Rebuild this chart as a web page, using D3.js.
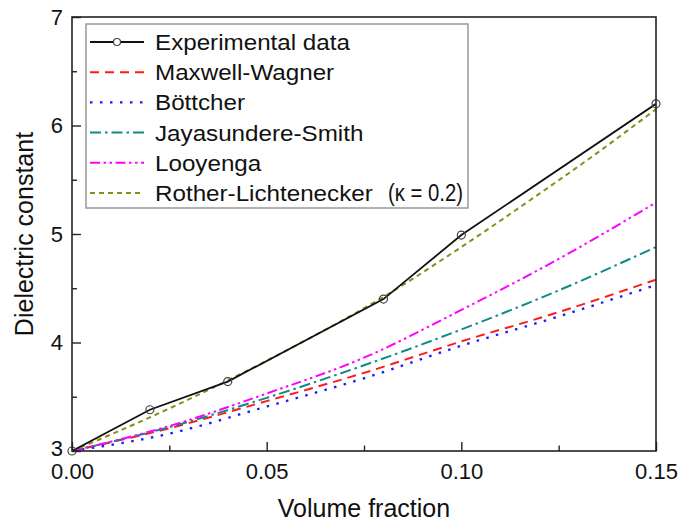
<!DOCTYPE html>
<html>
<head>
<meta charset="utf-8">
<script src="https://cdn.jsdelivr.net/npm/d3@7"></script>
<style>
  html, body { margin: 0; padding: 0; background: #fff; }
  svg { display: block; }
  text { font-family: "Liberation Sans", Arial, sans-serif; fill: #111; }
</style>
</head>
<body>
<svg id="chart" width="678" height="524"></svg>
<script>
// ---------- data ----------
const expX = [0, 0.02, 0.04, 0.08, 0.10, 0.15];
const expY = [3.0, 3.38, 3.64, 4.40, 4.99, 6.20];

const modelX = [0, 0.025, 0.05, 0.075, 0.10, 0.125, 0.15];
const maxwellWagner = [3.0, 3.21, 3.46, 3.72, 4.01, 4.28, 4.58];
const bottcher      = [3.0, 3.16, 3.41, 3.67, 3.97, 4.24, 4.53];
const jayasundere   = [3.0, 3.22, 3.49, 3.79, 4.12, 4.48, 4.88];
const looyenga      = [3.0, 3.23, 3.53, 3.86, 4.30, 4.77, 5.29];

const rlX = [0, 0.02, 0.04, 0.06, 0.08, 0.10, 0.12, 0.135, 0.15];
const rotherLichtenecker = [3.0, 3.31, 3.65, 4.02, 4.42, 4.88, 5.37, 5.75, 6.15];

const xMajorTicks = [0, 0.05, 0.10, 0.15];
const xMinorTicks = [0.025, 0.075, 0.125];
const yMajorTicks = [3, 4, 5, 6, 7];
const yMinorTicks = [3.5, 4.5, 5.5, 6.5];

const legendLabels = ["Experimental data", "Maxwell-Wagner", "Böttcher",
                      "Jayasundere-Smith", "Looyenga", "Rother-Lichtenecker"];

// ---------- setup ----------
const svg = d3.select("#chart");
const L = 72, R = 656, T = 17, B = 451;
const x = d3.scaleLinear().domain([0, 0.15]).range([L, R]);
const y = d3.scaleLinear().domain([3, 7]).range([B, T]);

const series = [
  { name: legendLabels[1], xs: modelX, ys: maxwellWagner, color: "#ff1a1a", dash: "9,6", w: 2 },
  { name: legendLabels[2], xs: modelX, ys: bottcher, color: "#1a1aff", dash: "2.5,7.5", w: 2.3 },
  { name: legendLabels[3], xs: modelX, ys: jayasundere, color: "#108a86", dash: "11,4,2.5,4", w: 2 },
  { name: legendLabels[4], xs: modelX, ys: looyenga, color: "#ff00ff", dash: "10,3.5,2.5,3.5,2.5,3.5", w: 2 },
  { name: legendLabels[5], xs: rlX, ys: rotherLichtenecker, color: "#8c8c1a", dash: "5,4", w: 2 }
];

const line = d3.line().x(d => x(d[0])).y(d => y(d[1])).curve(d3.curveMonotoneX);
const lineLin = d3.line().x(d => x(d[0])).y(d => y(d[1]));

const plot = svg.append("g");
plot.append("defs").append("clipPath").attr("id", "clip")
  .append("rect").attr("x", L).attr("y", T).attr("width", R - L).attr("height", B - T);

const lines = plot.append("g").attr("clip-path", "url(#clip)");
series.forEach(s => {
  lines.append("path")
    .datum(s.xs.map((v, i) => [v, s.ys[i]]))
    .attr("d", line)
    .attr("fill", "none")
    .attr("stroke", s.color)
    .attr("stroke-width", s.w)
    .attr("stroke-dasharray", s.dash);
});

const expData = expX.map((v, i) => [v, expY[i]]);
lines.append("path").datum(expData).attr("d", lineLin)
  .attr("fill", "none").attr("stroke", "#111").attr("stroke-width", 1.8);
plot.selectAll("circle.exp").data(expData).enter().append("circle")
  .attr("class", "exp")
  .attr("cx", d => x(d[0])).attr("cy", d => y(d[1])).attr("r", 4)
  .attr("fill", "none").attr("stroke", "#444").attr("stroke-width", 1.2);

// ---------- axes ----------
const fontSize = 22;
const xAxis = svg.append("g").attr("transform", `translate(0,${B})`)
  .call(d3.axisBottom(x).tickValues(xMajorTicks).tickSize(-9).tickPadding(12)
        .tickFormat(d3.format(".2f")));
const xAxisMinor = svg.append("g").attr("transform", `translate(0,${B})`)
  .call(d3.axisBottom(x).tickValues(xMinorTicks).tickSize(-5.5).tickFormat(""));
const yAxis = svg.append("g").attr("transform", `translate(${L},0)`)
  .call(d3.axisLeft(y).tickValues(yMajorTicks).tickSize(-9).tickPadding(9)
        .tickFormat(d3.format("d")));
const yAxisMinor = svg.append("g").attr("transform", `translate(${L},0)`)
  .call(d3.axisLeft(y).tickValues(yMinorTicks).tickSize(-5).tickFormat(""));

[xAxis, xAxisMinor, yAxis, yAxisMinor].forEach(g => {
  g.select(".domain").remove();
  g.selectAll("line").attr("stroke", "#222").attr("stroke-width", 1.4);
  g.selectAll("text").attr("font-size", fontSize)
    .attr("font-family", "Liberation Sans, Arial, sans-serif").attr("fill", "#111");
});
// lift the lowest y label slightly so it clears the x labels
yAxis.selectAll("text").filter(d => d === 3).attr("dy", "0.2em");

// frame
svg.append("rect").attr("x", L).attr("y", T).attr("width", R - L).attr("height", B - T)
  .attr("fill", "none").attr("stroke", "#222").attr("stroke-width", 1.6);

// axis titles
svg.append("text").attr("x", (L + R) / 2).attr("y", 517)
  .attr("text-anchor", "middle").attr("font-size", 25).text("Volume fraction");
svg.append("text").attr("transform", `translate(33,${(T + B) / 2}) rotate(-90)`)
  .attr("text-anchor", "middle").attr("font-size", 25).text("Dielectric constant");

// ---------- legend ----------
const lg = svg.append("g");
lg.append("rect").attr("x", 86).attr("y", 24).attr("width", 382).attr("height", 184)
  .attr("fill", "#fff").attr("stroke", "#999").attr("stroke-width", 1.5);

const rowY = i => 42 + i * 30.2;
const legendItems = [{ color: "#111", dash: null, exp: true, w: 1.8 }].concat(series);
legendItems.forEach((s, i) => {
  const yy = rowY(i);
  lg.append("line").attr("x1", 90).attr("x2", 144).attr("y1", yy).attr("y2", yy)
    .attr("stroke", s.color).attr("stroke-width", s.w)
    .attr("stroke-dasharray", s.dash);
  if (s.exp) {
    lg.append("circle").attr("cx", 117).attr("cy", yy).attr("r", 3.5)
      .attr("fill", "#fff").attr("stroke", "#444").attr("stroke-width", 1.2);
  }
  lg.append("text").attr("transform", `translate(155,${yy + 8}) scale(1.1,1)`)
    .attr("font-size", 22).text(legendLabels[i]);
});
// kappa annotation
lg.append("text").attr("x", 388).attr("y", rowY(5) + 8)
  .attr("font-family", "Liberation Serif, Times New Roman, serif")
  .attr("font-size", 23).attr("textLength", 75).attr("lengthAdjust", "spacingAndGlyphs")
  .text("(κ = 0.2)");
</script>
</body>
</html>
